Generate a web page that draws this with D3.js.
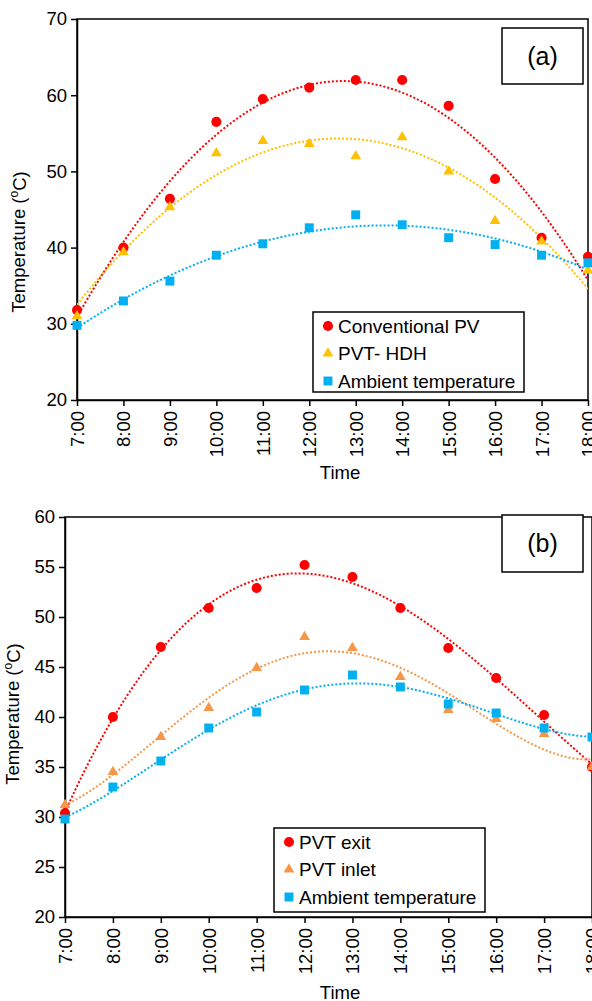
<!DOCTYPE html>
<html lang="en">
<head>
    <meta charset="UTF-8">
    <title>PV / PVT temperatures</title>
    <style>
        body { margin: 0; background: #fff; }
        svg { display: block; font-family: Arial, "Liberation Sans", sans-serif; }
        .tick text { fill: #000; }
    </style>
</head>
<body>
<script src="https://d3js.org/d3.v7.min.js"></script>
<script>
    // hours on the x axis
    const times = ["7:00", "8:00", "9:00", "10:00", "11:00", "12:00",
        "13:00", "14:00", "15:00", "16:00", "17:00", "18:00"];

    // chart (a)
    const conventionalPV = [31.8, 40, 46.4, 56.5, 59.5, 61, 62, 62, 58.6, 49, 41.3, 38.8];
    const pvtHdh = [31, 39.4, 45.3, 52.4, 54, 53.6, 52, 54.5, 50, 43.5, 40.8, 37];
    const ambientA = [29.8, 33, 35.6, 39, 40.5, 42.6, 44.3, 43, 41.3, 40.4, 39, 38];
    const yTicksA = [20, 30, 40, 50, 60, 70];

    // chart (b)
    const pvtExit = [30.4, 40, 47, 50.9, 52.9, 55.2, 54, 50.9, 46.9, 43.9, 40.2, 35];
    const pvtInlet = [31.2, 34.5, 38, 40.9, 44.9, 48, 46.9, 44, 40.7, 39.8, 38.3, 35];
    const ambientB = [29.8, 33, 35.6, 38.9, 40.5, 42.7, 44.2, 43, 41.3, 40.4, 38.9, 38];
    const yTicksB = [20, 25, 30, 35, 40, 45, 50, 55, 60];

    const width = 592, height = 1001;

    const svg = d3.select("body")
        .append("svg")
        .attr("width", width)
        .attr("height", height)
        .attr("viewBox", [0, 0, width, height]);

    // least squares polynomial trendline (like excel)
    function polyfit(ys, order) {
        const xs = ys.map((d, i) => i + 1);
        const n = order + 1;
        const A = d3.range(n).map(r => {
            const row = d3.range(n).map(c => d3.sum(xs, x => Math.pow(x, r + c)));
            row.push(d3.sum(xs, (x, i) => ys[i] * Math.pow(x, r)));
            return row;
        });
        for (let i = 0; i < n; i++) {
            let p = i;
            for (let k = i + 1; k < n; k++) if (Math.abs(A[k][i]) > Math.abs(A[p][i])) p = k;
            [A[i], A[p]] = [A[p], A[i]];
            for (let k = i + 1; k < n; k++) {
                const f = A[k][i] / A[i][i];
                for (let j = i; j <= n; j++) A[k][j] -= f * A[i][j];
            }
        }
        const coef = new Array(n).fill(0);
        for (let i = n - 1; i >= 0; i--) {
            let s = A[i][n];
            for (let j = i + 1; j < n; j++) s -= A[i][j] * coef[j];
            coef[i] = s / A[i][i];
        }
        return x => coef.reduce((acc, c, i) => acc + c * Math.pow(x + 1, i), 0);
    }

    function drawChart(cfg) {
        const g = svg.append("g");

        const x = d3.scalePoint().domain(times).range([cfg.left, cfg.right]);
        const xi = d3.scaleLinear().domain([0, times.length - 1]).range([cfg.left, cfg.right]);
        const y = d3.scaleLinear().domain(d3.extent(cfg.yTicks)).range([cfg.bottom, cfg.top]);

        g.append("clipPath").attr("id", cfg.id)
            .append("rect")
            .attr("x", cfg.left).attr("y", cfg.top)
            .attr("width", cfg.right - cfg.left).attr("height", cfg.bottom - cfg.top);

        // plot frame
        g.append("rect")
            .attr("x", cfg.left).attr("y", cfg.top)
            .attr("width", cfg.right - cfg.left).attr("height", cfg.bottom - cfg.top)
            .attr("fill", "none").attr("stroke", "#000").attr("stroke-width", 1.5);

        // axes
        const yAxis = g.append("g")
            .attr("transform", `translate(${cfg.left},0)`)
            .call(d3.axisLeft(y).tickValues(cfg.yTicks).tickSize(6).tickSizeOuter(0).tickPadding(4));
        yAxis.selectAll("text").attr("font-size", 18.5).attr("font-family", "Arial, 'Liberation Sans', sans-serif");

        const xAxis = g.append("g")
            .attr("transform", `translate(0,${cfg.bottom})`)
            .call(d3.axisBottom(x).tickSize(6).tickSizeOuter(0));
        xAxis.selectAll("text")
            .attr("font-size", 18.5)
            .attr("font-family", "Arial, 'Liberation Sans', sans-serif")
            .attr("text-anchor", "end")
            .attr("transform", "rotate(-90)")
            .attr("x", -11)
            .attr("y", 0)
            .attr("dy", "0.35em");
        g.selectAll(".domain, .tick line").attr("stroke", "#000").attr("stroke-width", 1.5);

        // trendlines
        const samples = d3.range(0, times.length - 1 + 0.001, 0.05);
        cfg.series.forEach(s => {
            const f = polyfit(s.values, cfg.order);
            g.append("path")
                .attr("clip-path", `url(#${cfg.id})`)
                .attr("d", d3.line().x(t => xi(t)).y(t => y(f(t)))(samples))
                .attr("fill", "none")
                .attr("stroke", s.color)
                .attr("stroke-width", 2)
                .attr("stroke-dasharray", "2,2");
        });

        // markers
        cfg.series.forEach(s => {
            g.append("g").selectAll("path")
                .data(s.values)
                .join("path")
                .attr("transform", (d, i) => `translate(${x(times[i])},${y(d)})`)
                .attr("d", d3.symbol().type(s.symbol).size(s.size))
                .attr("fill", s.color);
        });

        // y label
        const yl = g.append("text")
            .attr("transform", `translate(${cfg.ylabel[0]},${cfg.ylabel[1]}) rotate(-90)`)
            .attr("text-anchor", "middle")
            .attr("dy", "0.35em")
            .attr("font-size", 18.5);
        yl.append("tspan").text("Temperature (");
        yl.append("tspan").text("o").attr("font-size", 12).attr("dy", "-0.6em");
        yl.append("tspan").text("C)").attr("dy", "0.4em");

        g.append("text")
            .attr("x", cfg.timeLabel[0]).attr("y", cfg.timeLabel[1])
            .attr("text-anchor", "middle")
            .attr("font-size", 18.5)
            .text("Time");

        // panel tag
        const tb = cfg.tagBox;
        g.append("rect")
            .attr("x", tb[0]).attr("y", tb[1]).attr("width", tb[2]).attr("height", tb[3])
            .attr("fill", "#fff").attr("stroke", "#000").attr("stroke-width", 1.5);
        g.append("text")
            .attr("x", tb[0] + tb[2] / 2).attr("y", tb[1] + tb[3] / 2)
            .attr("dy", "0.35em")
            .attr("text-anchor", "middle")
            .attr("font-size", 25)
            .text(cfg.tag);

        // legend
        const lb = cfg.legendBox;
        g.append("rect")
            .attr("x", lb[0]).attr("y", lb[1]).attr("width", lb[2]).attr("height", lb[3])
            .attr("fill", "#fff").attr("stroke", "#000").attr("stroke-width", 1.5);
        cfg.series.forEach((s, i) => {
            const cy = lb[1] + 14 + i * 27.5;
            g.append("path")
                .attr("transform", `translate(${lb[0] + 15},${cy})`)
                .attr("d", d3.symbol().type(s.symbol).size(s.size))
                .attr("fill", s.color);
            g.append("text")
                .attr("x", lb[0] + 25).attr("y", cy)
                .attr("dy", "0.35em")
                .attr("font-size", 19)
                .text(s.name);
        });
    }

    drawChart({
        id: "clipA",
        left: 77, right: 588, top: 19, bottom: 400,
        yTicks: yTicksA,
        order: 2,
        series: [
            {name: "Conventional PV", values: conventionalPV, color: "#FF0000", symbol: d3.symbolCircle, size: 80},
            {name: "PVT- HDH", values: pvtHdh, color: "#FFC000", symbol: d3.symbolTriangle, size: 50},
            {name: "Ambient temperature", values: ambientA, color: "#00B0F0", symbol: d3.symbolSquare, size: 80}
        ],
        ylabel: [19, 242],
        timeLabel: [340, 479],
        tag: "(a)", tagBox: [502, 28, 81, 56],
        legendBox: [313, 312, 211, 80]
    });

    drawChart({
        id: "clipB",
        left: 65, right: 592, top: 517, bottom: 917,
        yTicks: yTicksB,
        order: 4,
        series: [
            {name: "PVT exit", values: pvtExit, color: "#FF0000", symbol: d3.symbolCircle, size: 80},
            {name: "PVT inlet", values: pvtInlet, color: "#F79646", symbol: d3.symbolTriangle, size: 50},
            {name: "Ambient temperature", values: ambientB, color: "#00B0F0", symbol: d3.symbolSquare, size: 80}
        ],
        ylabel: [13, 714],
        timeLabel: [340, 999],
        tag: "(b)", tagBox: [502, 515, 81, 57],
        legendBox: [274, 828, 211, 84]
    });
</script>
</body>
</html>
